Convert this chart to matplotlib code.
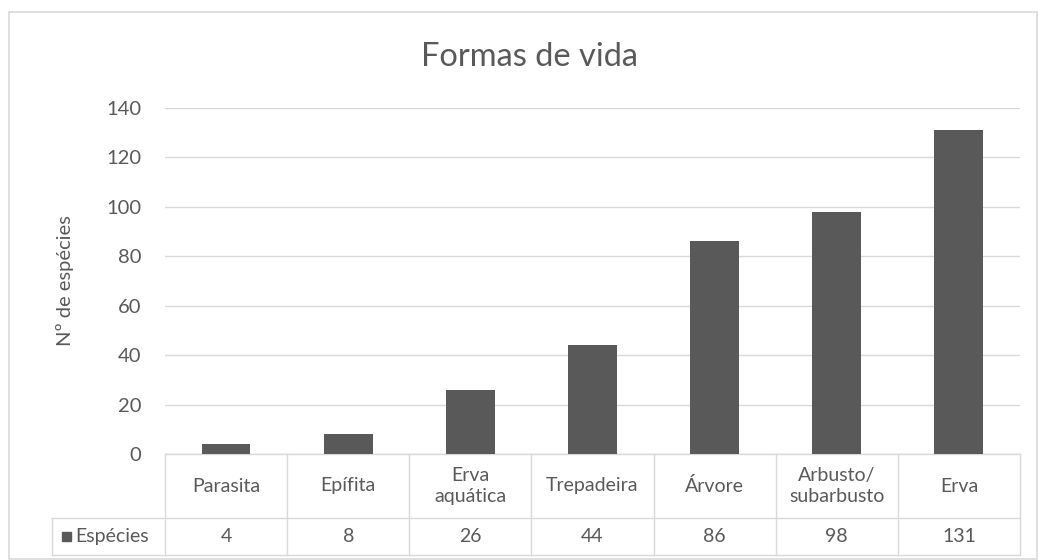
import matplotlib
matplotlib.use("Agg")
import matplotlib.pyplot as plt
import matplotlib.transforms as mtransforms
from matplotlib.patches import Rectangle

categories = ["Parasita", "Epífita", "Erva\naquática", "Trepadeira", "Árvore",
              "Arbusto/\nsubarbusto", "Erva"]
values = [4, 8, 26, 44, 86, 98, 131]
series_name = "Espécies"
title = "Formas de vida"
ylabel = "Nº de espécies"
yticks = [0, 20, 40, 60, 80, 100, 120, 140]

plt.rcParams['font.family'] = ['Lato', 'DejaVu Sans']
TXT = "#595959"
GRID = "#d9d9d9"
BAR = "#595959"

W, H = 1038, 560
fig = plt.figure(figsize=(W / 100, H / 100), dpi=100)
fig.patch.set_facecolor("white")

# plot area in pixel terms
left_px, right_px, top_px, bot_px = 165, 1020, 108, 454
ax = fig.add_axes([left_px / W, 1 - bot_px / H, (right_px - left_px) / W, (bot_px - top_px) / H])

n = len(categories)
x = list(range(n))
ax.bar(x, values, width=0.4, color=BAR, zorder=3)
ax.set_xlim(-0.5, n - 0.5)
ax.set_ylim(0, 140)
ax.set_yticks(yticks)
ax.set_xticks([])
ax.tick_params(axis='y', length=0, pad=17, labelsize=14.5, labelcolor=TXT)
ax.grid(axis='y', color=GRID, linewidth=1, zorder=0)
for s in ax.spines.values():
    s.set_visible(False)

ax.text(-0.117, 0.5, ylabel, transform=ax.transAxes, rotation=90,
        ha='center', va='center', fontsize=14.5, color=TXT)

fig.text(0.5 + 0.01, 1 - 57 / H, title, ha='center', va='center', fontsize=23.5, color=TXT)

# data table
tr = mtransforms.blended_transform_factory(ax.transData, ax.transAxes)
axh = bot_px - top_px
r0 = 0.0
r1 = -(518 - bot_px) / axh
r2 = -(555 - bot_px) / axh
cat_w = (right_px - left_px) / n
x_leg = -0.5 - (left_px - 52) / cat_w

lkw = dict(color=GRID, linewidth=1, transform=tr, clip_on=False, zorder=1)
ax.plot([-0.5, n - 0.5], [r0, r0], **lkw)
ax.plot([x_leg, n - 0.5], [r1, r1], **lkw)
ax.plot([x_leg, n - 0.5], [r2, r2], **lkw)
for i in range(n + 1):
    ax.plot([i - 0.5, i - 0.5], [r0, r2], **lkw)
ax.plot([x_leg, x_leg], [r1, r2], **lkw)

FS = 14
for i, (c, v) in enumerate(zip(categories, values)):
    ax.text(i, (r0 + r1) / 2, c, transform=tr, ha='center', va='center',
            fontsize=FS, color=TXT, linespacing=1.3, clip_on=False)
    ax.text(i, (r1 + r2) / 2, str(v), transform=tr, ha='center', va='center',
            fontsize=FS, color=TXT, clip_on=False)

# legend key in table
sq = 9 / cat_w
ax.add_patch(Rectangle((x_leg + 10 / cat_w, (r1 + r2) / 2 - 0.013), sq, 0.026,
                       transform=tr, color=BAR, clip_on=False))
ax.text(x_leg + 23 / cat_w, (r1 + r2) / 2, series_name, transform=tr, ha='left',
        va='center', fontsize=FS, color=TXT, clip_on=False)

# chart border
fig.add_artist(Rectangle((9 / W, 0.002), (W - 10) / W, 1 - 12 / H - 0.002,
                         transform=fig.transFigure, fill=False, edgecolor=GRID, linewidth=1.2))

fig.savefig("out.png", dpi=100)
